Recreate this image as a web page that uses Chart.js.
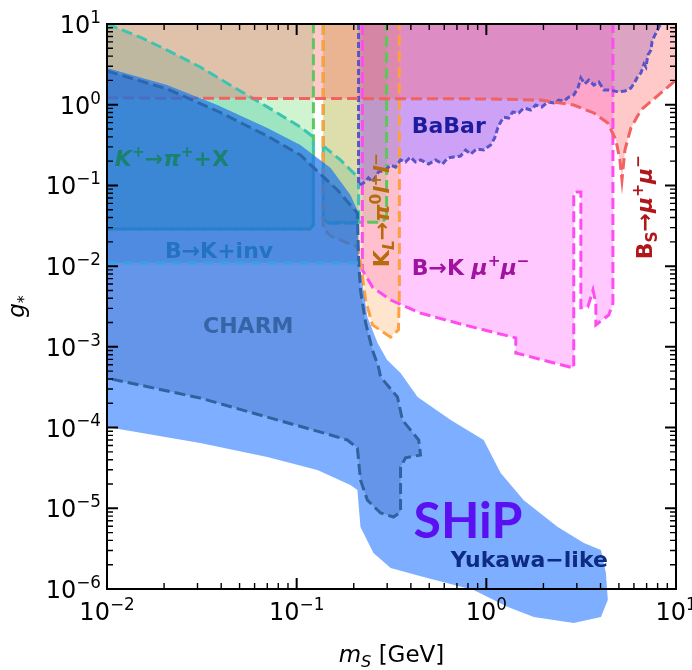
<!DOCTYPE html>
<html>
<head>
<meta charset="utf-8">
<title>SHiP scalar sensitivity</title>
<script src="https://cdn.jsdelivr.net/npm/chart.js@4.4.1/dist/chart.umd.min.js"></script>
<style>
  body { margin: 0; background: #fff; }
  canvas { display: block; }
</style>
</head>
<body>
<canvas id="chart" width="692" height="670"></canvas>
<script>
// axes: log-log, m_S in GeV vs g*
const xRange = [1e-2, 1e1];
const yRange = [1e-6, 1e1];
const xTicks = [1e-2, 1e-1, 1e0, 1e1];
const xTickExp = ['−2', '−1', '0', '1'];
const yTicks = [1e1, 1e0, 1e-1, 1e-2, 1e-3, 1e-4, 1e-5, 1e-6];
const yTickExp = ['1', '0', '−1', '−2', '−3', '−4', '−5', '−6'];

// region outlines, [m_S, g*] (null y = start a new piece)
const ship = [
  [0.01, 2.85], [0.0207, 1.75], [0.0381, 0.99], [0.070, 0.514], [0.1045, 0.317], [0.151, 0.164],
  [0.192, 0.076], [0.212, 0.0455], [0.209, 0.0159], [0.222, 0.0062], [0.236, 0.00234], [0.267, 0.00112],
  [0.30, 0.000687], [0.353, 0.000474], [0.434, 0.000239], [0.649, 0.000124], [0.968, 0.0000702],
  [1.19, 0.0000274], [1.575, 0.0000126], [2.38, 0.00000586], [3.27, 0.00000372], [4.02, 0.00000304],
  [4.27, 0.00000158], [4.37, 7.3e-7], [4.02, 4.5e-7], [2.89, 3.8e-7], [1.78, 4.5e-7], [1.30, 6.0e-7],
  [0.857, 9.7e-7], [0.467, 1.41e-6], [0.313, 1.82e-6], [0.254, 2.79e-6], [0.217, 5.86e-6],
  [0.209, 1.68e-5], [0.192, 1.94e-5], [0.1285, 2.98e-5], [0.070, 4.32e-5], [0.031, 6.44e-5], [0.01, 1.02e-4]
];
const charm = [
  [0.01, 2.62], [0.0207, 1.57], [0.0381, 0.836], [0.070, 0.41], [0.1045, 0.238], [0.164, 0.0877],
  [0.209, 0.0455], [0.212, 0.0119], [0.217, 0.00506], [0.231, 0.00198], [0.251, 0.000914],
  [0.270, 0.000562], [0.277, 0.000423], [0.340, 0.000239], [0.361, 0.000124], [0.440, 0.0000702],
  [0.450, 0.0000457], [0.375, 0.0000422], [0.353, 0.0000324], [0.353, 0.00000899], [0.324, 0.0000078],
  [0.277, 0.00000875], [0.236, 0.0000126], [0.217, 0.0000224], [0.209, 0.0000558], [0.185, 0.0000702],
  [0.151, 0.0000809], [0.070, 0.000135], [0.031, 0.000232], [0.01, 0.000411], [0.01, 2.62]
];
const bkInv = [
  [0.01, 2.85], [0.0207, 1.75], [0.0381, 0.99], [0.070, 0.514], [0.1045, 0.317], [0.151, 0.164],
  [0.192, 0.076], [0.212, 0.0455], [0.214, 0.0109], [0.01, 0.0109]
];
const bkInvEdge = [[0.01, 0.0109], [0.216, 0.0109]];
const kPiX = [
  [0.01, 10], [0.0149, 6.9], [0.0207, 4.76], [0.031, 2.93], [0.0464, 1.66], [0.070, 0.94], [0.1045, 0.53],
  [0.1225, 0.398], [0.1225, 0.0325], [0.117, 0.0288], [0.01, 0.0288], [0.01, 10], [0.13, null],
  [0.138, 0.308], [0.170, 0.207], [0.212, 0.124], [0.212, 0.034], [0.145, 0.034], [0.138, 0.0384], [0.138, 0.308]
];
const kPiWide = [
  [0.01, 10], [0.01, 0.0288], [0.117, 0.0288], [0.1225, 0.032], [0.1225, 10], [0.01, 10], [0.13, null],
  [0.138, 10], [0.138, 0.039], [0.145, 0.035], [0.28, 0.035], [0.298, 0.0394], [0.298, 10], [0.138, 10]
];
const klPi0 = [
  [0.138, 10], [0.138, 0.0296], [0.151, 0.0236], [0.209, 0.0173], [0.217, 0.0113], [0.231, 0.0038],
  [0.251, 0.00187], [0.313, 0.00132], [0.344, 0.00162], [0.348, 0.005], [0.348, 10], [0.138, 10]
];
const bkMuMu = [
  [0.222, 10], [0.222, 0.00895], [0.251, 0.0055], [0.313, 0.0038], [0.45, 0.00262], [0.731, 0.00192],
  [1.43, 0.00129], [1.43, 0.00084], [2.89, 0.000547], [2.89, 0.0828], [3.15, 0.0828], [3.15, 0.00304],
  [3.43, 0.00312], [3.65, 0.00506], [3.78, 0.00349], [3.78, 0.00187], [4.42, 0.00248], [4.65, 0.00349],
  [4.65, 10], [0.222, 10]
];
const babar = [
  [0.212, 10], [0.212, 0.101], [0.225, 0.107], [0.239, 0.124], [0.251, 0.110], [0.270, 0.147],
  [0.294, 0.155], [0.313, 0.179], [0.332, 0.169], [0.353, 0.207], [0.375, 0.195], [0.398, 0.225],
  [0.423, 0.195], [0.450, 0.207], [0.496, 0.184], [0.540, 0.207], [0.588, 0.184], [0.625, 0.219],
  [0.672, 0.225], [0.731, 0.231], [0.778, 0.275], [0.827, 0.245], [0.889, 0.283], [0.968, 0.275],
  [1.054, 0.317], [1.107, 0.387], [1.148, 0.514], [1.19, 0.611], [1.235, 0.70], [1.312, 0.684],
  [1.377, 0.81], [1.482, 0.79], [1.575, 0.91], [1.714, 0.86], [1.822, 0.99], [1.960, 0.937],
  [2.109, 1.08], [2.268, 1.05], [2.411, 1.14], [2.56, 1.11], [2.722, 1.246], [2.89, 1.32], [3.04, 1.61],
  [3.15, 2.14], [3.307, 1.81], [3.47, 2.02], [3.69, 1.75], [3.92, 1.91], [4.17, 1.52], [4.54, 1.52],
  [4.94, 1.44], [5.38, 1.48], [5.78, 1.61], [6.07, 1.91], [6.30, 2.27], [6.53, 2.47], [6.78, 3.19],
  [6.94, 2.93], [7.11, 4.13], [7.38, 4.76], [7.47, 5.98], [7.65, 6.90], [7.84, 7.74], [8.13, 9.18],
  [8.33, 10], [0.212, 10]
];
const bsMuMu = [
  [0.01, 10], [0.01, 1.21], [1.0, 1.18], [1.94, 1.14], [2.89, 0.99], [3.69, 0.79], [4.37, 0.593],
  [4.82, 0.366], [5.06, 0.207], [5.19, 0.117], [5.38, 0.275], [5.78, 0.514], [6.53, 0.86], [8.33, 1.40],
  [10, 2.02], [10, 10], [0.01, 10]
];

// hide outline pieces that run along the frame
const onEdge = c => {
  const d = c.chart.data.datasets[c.datasetIndex].data;
  const a = d[c.p0DataIndex], b = d[c.p1DataIndex];
  return (a.x === b.x && (a.x <= xRange[0] || a.x >= xRange[1])) ||
         (a.y === b.y && (a.y <= yRange[0] || a.y >= yRange[1]));
};

const toXY = points => points.map(([x, y]) => ({ x, y }));

function area(points, fill, extra) {
  return Object.assign({
    data: toXY(points), areaColor: fill, showLine: false, pointRadius: 0, clip: 0
  }, extra || {});
}

function outline(points, color, extra) {
  return Object.assign({
    data: toXY(points),
    showLine: true,
    borderColor: color,
    borderWidth: 3,
    borderDash: [11, 5],
    pointRadius: 0,
    spanGaps: false,
    clip: 0,
    segment: { borderColor: c => onEdge(c) ? 'rgba(0,0,0,0)' : undefined }
  }, extra || {});
}

// bottom layer first
const layers = [
  area(kPiWide, 'rgba(100,220,100,0.3)'),
  area(kPiX, 'rgba(40,190,160,0.3)'),
  area(bkMuMu, 'rgba(255,100,255,0.35)'),
  area(klPi0, 'rgba(255,170,90,0.3)'),
  area(babar, 'rgba(110,90,230,0.35)'),
  area(bsMuMu, 'rgba(255,100,100,0.35)'),
  outline(kPiWide, '#5cc85c'),
  outline(kPiX, '#3cc4b0'),
  outline(bkMuMu, '#ff4cf0'),
  outline(klPi0, '#ffa040'),
  outline(babar, '#5a54c8', { borderWidth: 3, borderDash: [6, 3] }),
  outline(bsMuMu, '#f26262'),
  area(ship, 'rgba(40,120,255,0.6)', { clip: false }),
  area(charm, 'rgba(40,90,180,0.3)'),
  outline(charm, '#33609e'),
  area(bkInv, 'rgba(30,120,210,0.3)'),
  outline(bkInvEdge, '#3aa0e4')
];

// fill each outline as a polygon from the points the scales placed
const areaFill = {
  id: 'areaFill',
  beforeDatasetDraw(chart, args) {
    const ds = chart.data.datasets[args.index];
    if (!ds.areaColor) return;
    const { ctx, chartArea: a } = chart;
    ctx.save();
    if (ds.clip !== false) {
      ctx.beginPath();
      ctx.rect(a.left, a.top, a.right - a.left, a.bottom - a.top);
      ctx.clip();
    }
    ctx.beginPath();
    let open = false;
    for (const p of args.meta.data) {
      if (p.skip) { open = false; continue; }
      if (!open) { ctx.moveTo(p.x, p.y); open = true; } else ctx.lineTo(p.x, p.y);
    }
    ctx.fillStyle = ds.areaColor;
    ctx.fill();
    ctx.restore();
  }
};

function drawRich(ctx, runs, x, y, o) {
  const base = o.size, fam = o.family || 'DejaVu Sans', wt = o.weight || 'bold';
  let total = 0;
  const parts = runs.map(([t, m = '']) => {
    const small = /[\^_]/.test(m);
    const size = small ? base * 0.7 : base;
    const font = (m.includes('i') ? 'italic ' : '') + wt + ' ' + size.toFixed(1) + 'px "' + fam + '"';
    ctx.font = font;
    const w = ctx.measureText(t).width;
    const dy = m.includes('^') ? -base * (o.up || 0.4) : m.includes('_') ? base * 0.22 : 0;
    total += w;
    return { t, font, w, dy };
  });
  let cx = o.align === 'center' ? x - total / 2 : o.align === 'right' ? x - total : x;
  ctx.fillStyle = o.color || '#000';
  ctx.textAlign = 'left';
  ctx.textBaseline = 'alphabetic';
  for (const p of parts) { ctx.font = p.font; ctx.fillText(p.t, cx, y + p.dy); cx += p.w; }
}

const notes = [
  { runs: [['K', 'i'], ['+', '^'], ['→'], ['π', 'i'], ['+', '^'], ['+X']], at: [0.011, 0.219], color: '#1a8270' },
  { runs: [['B→K+inv']], at: [0.0202, 0.0159], color: '#2373c4' },
  { runs: [['CHARM']], at: [0.0321, 0.00187], color: '#3764a6' },
  { runs: [['BaBar']], at: [0.404, 0.561], color: '#1c1c9c' },
  { runs: [['K'], ['L', 'i_'], ['→'], ['π', 'i'], ['0', '^'], ['l', 'i'], ['+', '^'], ['l', 'i'], ['−', '^']], at: [0.28, 0.0496], color: '#b86a0c', rotate: true },
  { runs: [['B→K '], ['μ', 'i'], ['+', '^'], ['μ', 'i'], ['−', '^']], at: [0.404, 0.00975], color: '#a112a0' },
  { runs: [['B'], ['S', '_'], ['→'], ['μ', 'i'], ['+', '^'], ['μ', 'i'], ['−', '^']], at: [6.78, 0.054], color: '#b0161a', rotate: true },
  { runs: [['Yukawa−like']], at: [0.649, 2.35e-6], color: '#0d2b80' }
];

const frame = {
  id: 'frame',
  afterDatasetsDraw(chart) {
    const { ctx, chartArea: a, scales: { x, y } } = chart;
    ctx.save();
    ctx.strokeStyle = '#000';
    const tick = (p, len, horiz) => {
      ctx.beginPath();
      if (horiz) {
        ctx.moveTo(p, a.bottom); ctx.lineTo(p, a.bottom - len);
        ctx.moveTo(p, a.top); ctx.lineTo(p, a.top + len);
      } else {
        ctx.moveTo(a.left, p); ctx.lineTo(a.left + len, p);
        ctx.moveTo(a.right, p); ctx.lineTo(a.right - len, p);
      }
      ctx.stroke();
    };
    const minors = [2, 3, 4, 5, 6, 7, 8, 9];
    xTicks.forEach((t, i) => {
      ctx.lineWidth = 2; tick(x.getPixelForValue(t), 11, true);
      if (i < xTicks.length - 1) { ctx.lineWidth = 1.4; minors.forEach(m => tick(x.getPixelForValue(t * m), 6, true)); }
    });
    yTicks.forEach((t, i) => {
      ctx.lineWidth = 2; tick(y.getPixelForValue(t), 11, false);
      if (i > 0) { ctx.lineWidth = 1.4; minors.forEach(m => tick(y.getPixelForValue(t * m), 6, false)); }
    });
    ctx.lineWidth = 2;
    ctx.strokeRect(a.left, a.top, a.right - a.left, a.bottom - a.top);

    const tk = { size: 24, weight: 'normal', color: '#000', up: 0.42 };
    xTicks.forEach((t, i) => drawRich(ctx, [['10'], [xTickExp[i], '^']], x.getPixelForValue(t), a.bottom + 31, Object.assign({ align: 'center' }, tk)));
    yTicks.forEach((t, i) => drawRich(ctx, [['10'], [yTickExp[i], '^']], a.left - 6, y.getPixelForValue(t) + 9, Object.assign({ align: 'right' }, tk)));

    drawRich(ctx, [['m', 'i'], ['S', 'i_'], [' [GeV]']], (a.left + a.right) / 2, 662, { size: 23, weight: 'normal', align: 'center' });
    ctx.save();
    ctx.translate(24, (a.top + a.bottom) / 2);
    ctx.rotate(-Math.PI / 2);
    drawRich(ctx, [['g', 'i'], ['*', '_']], 0, 0, { size: 23, weight: 'normal', align: 'center' });
    ctx.restore();

    for (const n of notes) {
      const px = x.getPixelForValue(n.at[0]), py = y.getPixelForValue(n.at[1]);
      const o = { size: 22, color: n.color, align: n.rotate ? 'center' : 'left' };
      if (n.rotate) {
        ctx.save(); ctx.translate(px, py); ctx.rotate(-Math.PI / 2);
        drawRich(ctx, n.runs, 0, 8, o);
        ctx.restore();
      } else {
        drawRich(ctx, n.runs, px, py + 8, o);
      }
    }
    drawRich(ctx, [['SHiP']], x.getPixelForValue(0.413), y.getPixelForValue(7.1e-6) + 18,
      { size: 50, weight: 'bold', family: 'Lato', color: '#5a10f0' });
    ctx.restore();
  }
};

new Chart(document.getElementById('chart'), {
  type: 'scatter',
  data: { datasets: layers.slice().reverse() },
  options: {
    responsive: false,
    animation: false,
    devicePixelRatio: 1,
    layout: { padding: { left: 107, top: 24, right: 16, bottom: 81 } },
    scales: {
      x: { type: 'logarithmic', min: xRange[0], max: xRange[1], display: false },
      y: { type: 'logarithmic', min: yRange[0], max: yRange[1], display: false }
    },
    plugins: { legend: { display: false }, tooltip: { enabled: false } },
    elements: { line: { tension: 0 } }
  },
  plugins: [areaFill, frame]
});
</script>
</body>
</html>
